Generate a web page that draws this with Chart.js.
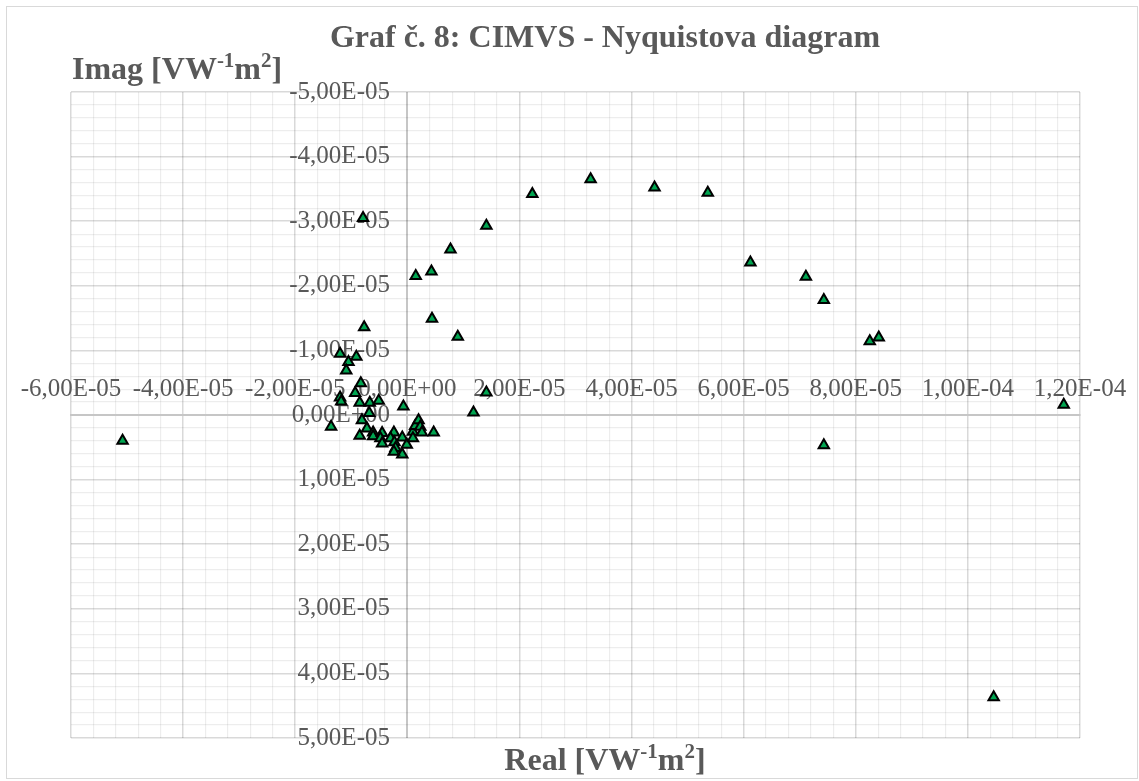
<!DOCTYPE html>
<html>
<head>
<meta charset="utf-8">
<title>Graf č. 8: CIMVS - Nyquistova diagram</title>
<script src="https://cdn.jsdelivr.net/npm/chart.js@4"></script>
<style>
  body { margin: 0; background: #fff; }
</style>
</head>
<body>
<canvas id="chart" width="1139" height="781"></canvas>
<script>
// data (Real / Imag in VW^-1 m^2)
var realVals = [
  5.36e-5, 6.12e-5, 7.11e-5, 7.43e-5, 8.25e-5, 8.41e-5, 11.71e-5, 7.43e-5, 10.46e-5, -5.08e-5,
  3.27e-5, 4.41e-5, 2.23e-5, 1.41e-5, 0.77e-5, 0.43e-5, 0.15e-5, 0.44e-5, 0.90e-5, 1.41e-5,
  1.18e-5, -0.07e-5, -0.79e-5, -0.77e-5, -1.20e-5, -0.91e-5, -1.05e-5, -1.09e-5, -0.83e-5, -0.93e-5,
  -1.20e-5, -1.18e-5, -0.85e-5, -0.67e-5, -0.51e-5, -0.68e-5, -1.36e-5, -0.81e-5, -0.72e-5, -0.85e-5,
  -0.61e-5, -0.61e-5, -0.45e-5, -0.48e-5, -0.24e-5, -0.30e-5, -0.45e-5, -0.23e-5, -0.09e-5, -0.01e-5,
  -0.21e-5, -0.09e-5, -0.24e-5, 0.10e-5, 0.14e-5, 0.20e-5, 0.23e-5, 0.26e-5, 0.10e-5, 0.47e-5
];
var imagVals = [
  -3.44e-5, -2.36e-5, -2.14e-5, -1.78e-5, -1.14e-5, -1.20e-5, -0.16e-5, 0.47e-5, 4.37e-5, 0.40e-5,
  -3.65e-5, -3.52e-5, -3.42e-5, -2.93e-5, -2.56e-5, -2.22e-5, -2.15e-5, -1.49e-5, -1.21e-5, -0.35e-5,
  -0.04e-5, -0.13e-5, -3.05e-5, -1.36e-5, -0.95e-5, -0.90e-5, -0.82e-5, -0.69e-5, -0.49e-5, -0.34e-5,
  -0.27e-5, -0.21e-5, -0.19e-5, -0.19e-5, -0.22e-5, -0.03e-5, 0.18e-5, 0.08e-5, 0.21e-5, 0.32e-5,
  0.27e-5, 0.33e-5, 0.28e-5, 0.36e-5, 0.27e-5, 0.36e-5, 0.44e-5, 0.42e-5, 0.35e-5, 0.46e-5,
  0.51e-5, 0.61e-5, 0.57e-5, 0.26e-5, 0.17e-5, 0.08e-5, 0.18e-5, 0.27e-5, 0.36e-5, 0.27e-5
];

var xMajor = [-6e-5, -4e-5, -2e-5, 0, 2e-5, 4e-5, 6e-5, 8e-5, 1e-4, 1.2e-4];
var xLabels = ['-6,00E-05', '-4,00E-05', '-2,00E-05', '0,00E+00', '2,00E-05', '4,00E-05',
  '6,00E-05', '8,00E-05', '1,00E-04', '1,20E-04'];
var yMajor = [-5e-5, -4e-5, -3e-5, -2e-5, -1e-5, 0, 1e-5, 2e-5, 3e-5, 4e-5, 5e-5];
var yLabels = ['-5,00E-05', '-4,00E-05', '-3,00E-05', '-2,00E-05', '-1,00E-05', '0,00E+00',
  '1,00E-05', '2,00E-05', '3,00E-05', '4,00E-05', '5,00E-05'];

var chartTitle = 'Graf č. 8: CIMVS - Nyquistova diagram';
var yTitle = [['Imag [VW', 0], ['-1', 1], ['m', 0], ['2', 1], [']', 0]];
var xTitle = [['Real [VW', 0], ['-1', 1], ['m', 0], ['2', 1], [']', 0]];

var grey = '#595959';
var axisGrey = '#c6c6c6';
var serif = '"Liberation Serif", "Times New Roman", serif';

// major ticks plus 4 minor gridlines in between
function withMinor(majors, labels) {
  return function(scale) {
    var t = [];
    for (var i = 0; i < majors.length; i++) {
      t.push({value: majors[i], isMajor: true, lbl: labels[i]});
      if (i < majors.length - 1) {
        var step = (majors[i + 1] - majors[i]) / 5;
        for (var k = 1; k < 5; k++) t.push({value: majors[i] + k * step, isMajor: false, lbl: ''});
      }
    }
    scale.ticks = t;
  };
}

function drawRich(ctx, parts, x, y, align) {
  var big = 'bold 32px ' + serif, small = 'bold 21px ' + serif;
  var w = 0;
  parts.forEach(function(p) { ctx.font = p[1] ? small : big; w += ctx.measureText(p[0]).width; });
  var cx = align === 'center' ? x - w / 2 : x;
  ctx.textAlign = 'left';
  parts.forEach(function(p) {
    ctx.font = p[1] ? small : big;
    ctx.fillText(p[0], cx, p[1] ? y - 12 : y);
    cx += ctx.measureText(p[0]).width;
  });
}

var titles = {
  id: 'titles',
  beforeDraw: function(chart) {
    var ctx = chart.ctx;
    ctx.save();
    ctx.strokeStyle = '#d9d9d9';
    ctx.lineWidth = 1;
    ctx.strokeRect(6.5, 6.5, 1131, 772);
    ctx.restore();
  },
  afterDraw: function(chart) {
    var ctx = chart.ctx;
    ctx.save();
    ctx.fillStyle = grey;
    ctx.textBaseline = 'alphabetic';
    ctx.font = 'bold 32px ' + serif;
    ctx.textAlign = 'center';
    ctx.fillText(chartTitle, 605, 47);
    drawRich(ctx, yTitle, 72, 79, 'left');
    drawRich(ctx, xTitle, 605, 770, 'center');
    ctx.restore();
  }
};

// translucent grey so crossing lines never punch holes in each other
function gridColor(c) { return c.tick && c.tick.isMajor ? 'rgba(0,0,0,0.15)' : 'rgba(0,0,0,0.07)'; }
function gridWidth(c) { return c.tick && c.tick.isMajor ? 1.5 : 1.2; }

Chart.defaults.font.family = serif;

new Chart(document.getElementById('chart'), {
  type: 'scatter',
  data: {
    datasets: [{
      data: realVals.map(function(x, i) { return {x: x, y: imagVals[i]}; }),
      pointStyle: 'triangle',
      pointRadius: 6,
      pointHoverRadius: 6,
      backgroundColor: '#00a550',
      borderColor: '#000000',
      borderWidth: 2
    }]
  },
  options: {
    responsive: false,
    animation: false,
    layout: { padding: { left: 71, right: 59, top: 92, bottom: 43 } },
    plugins: { legend: { display: false }, tooltip: { enabled: false } },
    scales: {
      x: {
        type: 'linear',
        min: -6e-5,
        max: 1.2e-4,
        position: { y: 0 },
        afterBuildTicks: withMinor(xMajor, xLabels),
        grid: {
          // the vertical line at 0 is the y axis itself
          color: function(c) { return c.tick && c.tick.value === 0 ? axisGrey : gridColor(c); },
          lineWidth: function(c) { return c.tick && c.tick.value === 0 ? 2 : gridWidth(c); },
          drawTicks: false
        },
        border: { color: axisGrey, width: 2 },
        ticks: {
          autoSkip: false,
          maxRotation: 0,
          padding: -41,
          color: grey,
          font: { size: 25 },
          callback: function(v, i, ticks) { return ticks[i].lbl; }
        }
      },
      y: {
        type: 'linear',
        min: -5e-5,
        max: 5e-5,
        reverse: true,
        // labels sit a little left of the x = 0 line
        position: { x: -3.1e-6 },
        afterBuildTicks: withMinor(yMajor, yLabels),
        grid: { color: gridColor, lineWidth: gridWidth, drawTicks: false },
        border: { display: false },
        ticks: {
          autoSkip: false,
          color: grey,
          font: { size: 25 },
          callback: function(v, i, ticks) { return ticks[i].lbl; }
        }
      }
    }
  },
  plugins: [titles]
});
</script>
</body>
</html>
